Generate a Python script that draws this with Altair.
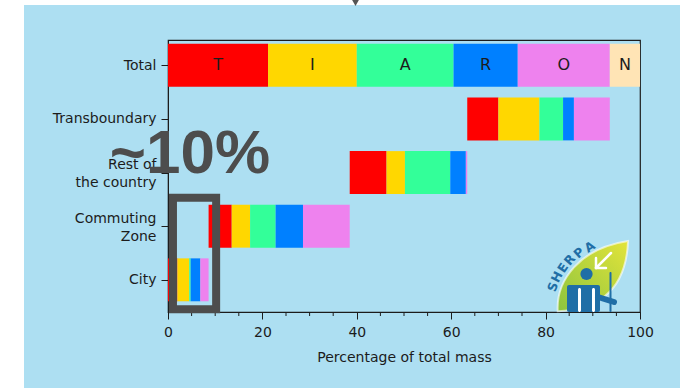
import altair as alt
import pandas as pd

# ---- data -------------------------------------------------------------
rows = ["City", "Commuting Zone", "Rest of the country", "Transboundary", "Total"]
row_lines = {
    "City": "City",
    "Commuting Zone": ["Commuting", "Zone"],
    "Rest of the country": ["Rest of\u2002", "the country"],
    "Transboundary": "Transboundary",
    "Total": "Total",
}
sectors = ["T", "I", "A", "R", "O", "N"]
sector_colors = ["#FF0000", "#FFD700", "#33FF99", "#0080FF", "#EE82EE", "#FFE4B5"]

# share of total mass (%) per sector T, I, A, R, O for each origin
city = [2.0, 2.5, 0.3, 2.05, 1.75]
commuting_zone = [4.9, 3.9, 5.4, 5.8, 9.9]
rest_of_country = [7.8, 3.9, 9.6, 3.3, 0.3]
transboundary = [6.6, 8.7, 5.0, 2.3, 7.6]
# total bar: T, I, A, R, O, N
total = [21.2, 18.8, 20.5, 13.6, 19.5, 6.4]

x_ticks = [0, 20, 40, 60, 80, 100]
x_minor = [v for v in range(5, 100, 5) if v % 20]

# ---- build segments (waterfall for the origins, stacked total) --------
recs = []
offset = 0.0
for pos, vals in enumerate([city, commuting_zone, rest_of_country, transboundary]):
    for s, v in zip(sectors, vals):
        recs.append({"row": rows[pos], "pos": pos, "sector": s,
                     "x": offset, "x2": offset + v})
        offset += v
acc = 0.0
for s, v in zip(sectors, total):
    recs.append({"row": "Total", "pos": 4, "sector": s, "x": acc, "x2": acc + v})
    acc += v
seg = pd.DataFrame(recs)
seg["y"] = seg["pos"] - 0.4
seg["y2"] = seg["pos"] + 0.4
seg["mid"] = (seg["x"] + seg["x2"]) / 2
tot = seg[seg["row"] == "Total"]

W, H = 472, 272
BLUE = "#ADDFF2"
INK = "#1c1c1c"
FONT = "DejaVu Sans"
XT = "Percentage of total mass"

xs = alt.Scale(domain=[0, 100], nice=False, zero=False)
ys = alt.Scale(domain=[-0.600, 4.472], nice=False, zero=False)

label_expr = ""
two_line = []
for pos in range(4, 0, -1):
    lab = row_lines[rows[pos]]
    if isinstance(lab, list):
        js = "[" + ",".join("'%s'" % t for t in lab) + "]"
        two_line.append(pos)
    else:
        js = "'%s'" % lab
    label_expr += "datum.value == %d ? %s : " % (pos, js)
label_expr += "'%s'" % row_lines[rows[0]]
two_line_test = " || ".join("datum.value == %d" % p for p in two_line)

x_axis = alt.Axis(values=x_ticks, tickSize=7, labelFontSize=14, titleFontSize=14,
                  titleFontWeight="normal", labelFont=FONT, titleFont=FONT,
                  labelColor=INK, titleColor=INK, domainColor=INK, tickColor=INK,
                  labelPadding=6, titlePadding=11, grid=False, labelFlush=False)
y_axis = alt.Axis(values=[0, 1, 2, 3, 4], labelExpr=label_expr, tickSize=7,
                  labelFontSize=14, labelFont=FONT, labelColor=INK, labelLineHeight=18,
                  labelOffset={"condition": {"test": two_line_test, "value": -8}, "value": 0},
                  domainColor=INK, tickColor=INK, labelPadding=5, grid=False, title="")

# ---- page decoration: white margins around the blue panel -------------
margins = pd.DataFrame({
    "px": [-168, -168, 512], "px2": [-144, 521, 521],
    "py": [-40, -40, -40], "py2": [348, -35, 348],
})
margin_layer = alt.Chart(margins).mark_rect(color="white").encode(
    x=alt.X("px:Q", scale=None), x2="px2:Q",
    y=alt.Y("py:Q", scale=None), y2="py2:Q",
)
pointer = alt.Chart(pd.DataFrame({"k": [0]})).mark_point(
    shape="triangle-down", filled=True, size=45, color="#555555", opacity=1
).encode(x=alt.value(187.5), y=alt.value(-37))

# ---- bars ----------------------------------------------------------------
bars = alt.Chart(seg).mark_rect().encode(
    x=alt.X("x:Q", scale=xs, axis=x_axis, title=XT),
    x2="x2:Q",
    y=alt.Y("y:Q", scale=ys, axis=y_axis, title=""),
    y2="y2:Q",
    color=alt.Color("sector:N", scale=alt.Scale(domain=sectors, range=sector_colors), legend=None),
)

letters = alt.Chart(tot).mark_text(fontSize=16, font=FONT, color=INK, baseline="middle").encode(
    x=alt.X("mid:Q", scale=xs, title=XT),
    y=alt.Y("pos:Q", scale=ys, title=""),
    text="sector:N",
)

minor = alt.Chart(pd.DataFrame({"x": x_minor})).mark_rule(color=INK, strokeWidth=1).encode(
    x=alt.X("x:Q", scale=xs, title=XT),
    y=alt.value(H), y2=alt.value(H + 4),
)

# ---- "~10%" highlight ------------------------------------------------------
box = alt.Chart(pd.DataFrame({"x": [1.05], "x2": [10.2], "y": [-0.55], "y2": [1.53]})).mark_rect(
    filled=False, stroke="#4D4D4D", strokeWidth=8
).encode(
    x=alt.X("x:Q", scale=xs, title=XT), x2="x2:Q",
    y=alt.Y("y:Q", scale=ys, title=""), y2="y2:Q",
)
big_label = alt.Chart(pd.DataFrame({"t": ["~10%"]})).mark_text(
    fontSize=62, fontWeight="bold", font="Liberation Sans", color="#4D4D4D",
    align="center", baseline="alphabetic"
).encode(text="t:N", x=alt.value(22), y=alt.value(133))

# ---- SHERPA logo -------------------------------------------------------------
leaf_path = "M -0.95 0.95 C -1.0 0.1 -0.35 -0.8 1 -1 C 0.95 0.25 0.3 0.9 -0.95 0.95 Z"
leaf = alt.Chart(pd.DataFrame({"k": [0]})).mark_point(
    shape=leaf_path, filled=True, size=5200, opacity=1,
    fill={"gradient": "linear", "x1": 1, "y1": 0, "x2": 0, "y2": 1,
          "stops": [{"offset": 0, "color": "#E3E43A"}, {"offset": 1, "color": "#8CC43F"}]},
    stroke="white", strokeWidth=2, strokeOpacity=0.6,
).encode(x=alt.value(424), y=alt.value(237))

LOGO = "#1F6EA6"
figure_rects = pd.DataFrame({
    "px": [399, 410, 424, 441.5], "px2": [432, 413, 427, 443.5],
    "py": [245, 248, 248, 232], "py2": [272, 272, 272, 272],
    "c": [LOGO, "white", "white", LOGO],
})
figure = alt.Chart(figure_rects).mark_rect(cornerRadius=2).encode(
    x=alt.X("px:Q", scale=None), x2="px2:Q",
    y=alt.Y("py:Q", scale=None), y2="py2:Q",
    color=alt.Color("c:N", scale=None),
)
head = alt.Chart(pd.DataFrame({"k": [0]})).mark_point(
    shape="circle", filled=True, size=150, color=LOGO, opacity=1
).encode(x=alt.value(418.5), y=alt.value(234))
arm = alt.Chart(pd.DataFrame({"k": [0]})).mark_rule(
    color=LOGO, strokeWidth=6, strokeCap="round"
).encode(x=alt.value(430), y=alt.value(257), x2=alt.value(446), y2=alt.value(262))

arrow_lines = pd.DataFrame({
    "px": [428, 428, 428], "py": [228, 228, 228],
    "px2": [443, 428, 438], "py2": [213, 218, 228],
})
arrow = alt.Chart(arrow_lines).mark_rule(color="white", strokeWidth=2.5, strokeCap="round").encode(
    x=alt.X("px:Q", scale=None), y=alt.Y("py:Q", scale=None),
    x2="px2:Q", y2="py2:Q",
)

logo_text = pd.DataFrame({
    "ch": list("SHERPA"),
    "px": [385, 389, 395, 402, 411, 422],
    "py": [247, 237, 228, 220, 213, 207],
    "ang": [290, 297, 304, 311, 319, 327],
})
sherpa = alt.Chart(logo_text).mark_text(
    fontSize=12.5, fontWeight="bold", font=FONT, color=LOGO, baseline="middle", align="center"
).encode(
    x=alt.X("px:Q", scale=None), y=alt.Y("py:Q", scale=None),
    text="ch:N", angle=alt.Angle("ang:Q", scale=None),
)

chart = alt.layer(
    margin_layer, pointer, bars, letters, minor, leaf, figure, head, arm, arrow, sherpa,
    box, big_label,
).properties(
    width=W, height=H,
    background=BLUE,
    autosize=alt.AutoSizeParams(type="none"),
    padding={"left": 168, "top": 40, "right": 49, "bottom": 76},
).configure_view(
    stroke=INK, strokeWidth=1.2, fill=None,
)

chart.save("out.html", embed_options={"renderer": "svg", "actions": False})
